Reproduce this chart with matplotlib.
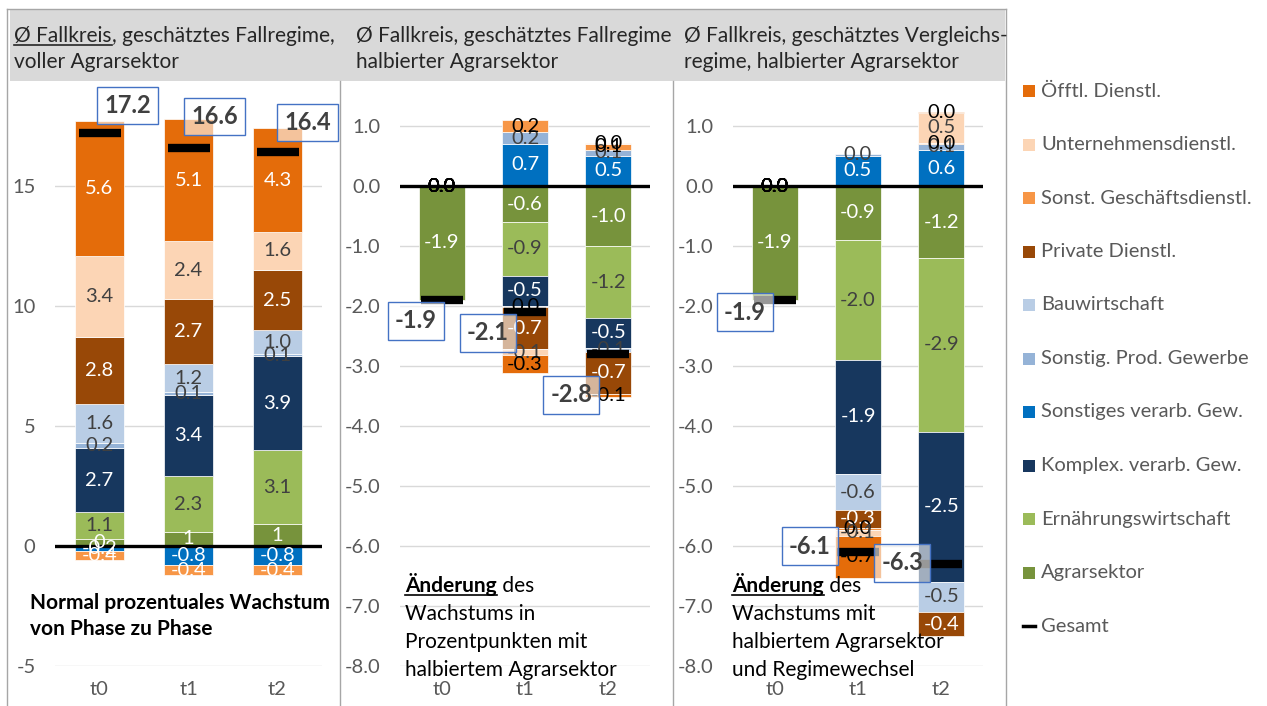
import numpy as np
import matplotlib.pyplot as plt
from matplotlib.transforms import IdentityTransform, Bbox
from matplotlib.lines import Line2D
from matplotlib.patches import Rectangle

plt.rcParams['font.family'] = ['Lato', 'DejaVu Sans']

# ---- data ---------------------------------------------------------------
cats = ["t0", "t1", "t2"]

# stack order (bottom -> top), legend is shown reversed
series = ["Agrarsektor", "Ernährungswirtschaft", "Komplex. verarb. Gew.",
          "Sonstiges verarb. Gew.", "Sonstig. Prod. Gewerbe", "Bauwirtschaft",
          "Private Dienstl.", "Sonst. Geschäftsdienstl.", "Unternehmensdienstl.",
          "Öfftl. Dienstl."]

# panel 1: normal growth, full agricultural sector
p1_agrar = [0.3, 0.6, 0.9]
p1_ern = [1.1, 2.3, 3.1]
p1_komplex = [2.7, 3.4, 3.9]
p1_verarb = [-0.2, -0.8, -0.8]
p1_prod = [0.2, 0.1, 0.1]
p1_bau = [1.6, 1.2, 1.0]
p1_private = [2.8, 2.7, 2.5]
p1_gesch = [-0.4, -0.4, -0.4]
p1_untern = [3.4, 2.4, 1.6]
p1_oefftl = [5.6, 5.1, 4.3]
p1_gesamt = [17.2, 16.6, 16.4]

# panel 2: change with halved agricultural sector
p2_agrar = [-1.9, -0.6, -1.0]
p2_ern = [0.0, -0.9, -1.2]
p2_komplex = [0.0, -0.5, -0.5]
p2_verarb = [0.0, 0.7, 0.5]
p2_prod = [0.0, 0.2, 0.1]
p2_bau = [0.0, -0.02, -0.06]
p2_private = [0.0, -0.7, -0.7]
p2_gesch = [0.0, 0.2, 0.1]
p2_untern = [0.0, -0.1, 0.02]
p2_oefftl = [0.0, -0.3, -0.06]
p2_gesamt = [-1.9, -2.1, -2.8]

# panel 3: change with halved agricultural sector and regime change
p3_agrar = [-1.9, -0.9, -1.2]
p3_ern = [0.0, -2.0, -2.9]
p3_komplex = [0.0, -1.9, -2.5]
p3_verarb = [0.0, 0.5, 0.6]
p3_prod = [0.0, 0.04, 0.1]
p3_bau = [0.0, -0.6, -0.5]
p3_private = [0.0, -0.3, -0.4]
p3_gesch = [0.0, -0.03, 0.02]
p3_untern = [0.0, -0.1, 0.5]
p3_oefftl = [0.0, -0.7, 0.02]
p3_gesamt = [-1.9, -6.1, -6.3]

colors = ["#77933C", "#9BBB59", "#17375E", "#0070C0", "#95B3D7", "#B9CDE5",
          "#984807", "#F79646", "#FCD5B5", "#E46C0A"]
white_lbl = {"Agrarsektor", "Komplex. verarb. Gew.", "Sonstiges verarb. Gew.",
             "Private Dienstl.", "Öfftl. Dienstl.", "Sonst. Geschäftsdienstl."}

W, H = 1267, 706
fig = plt.figure(figsize=(W / 100, H / 100), dpi=100)
px = IdentityTransform()
FS = 14.5


def Y(y):
    return H - y


def label_color(name, v, panel):
    if panel > 1:
        if name in ("Öfftl. Dienstl.", "Sonst. Geschäftsdienstl."):
            return "black"
        if abs(v) < 0.05 and name != "Sonstig. Prod. Gewerbe":
            return "black"
    return "white" if name in white_lbl else "#404040"


def fmt(v, name, panel):
    if panel == 1 and name == "Agrarsektor":
        return "%.0f" % v
    s = "%.1f" % v
    return "0.0" if s == "-0.0" else s


def panel(rect, data, gesamt, ylim, yticks, yfmt, width, offsets, pnum):
    ax = fig.add_axes(rect)
    x = np.arange(len(cats))
    pos = np.zeros(3)
    neg = np.zeros(3)
    for name, col, vals in zip(series, colors, data):
        vals = np.array(vals, dtype=float)
        bottom = np.where(vals >= 0, pos, neg)
        ax.bar(x, vals, width, bottom=bottom, color=col, edgecolor="white",
               linewidth=0.5, zorder=2)
        for i, v in enumerate(vals):
            ax.text(x[i], bottom[i] + v / 2, fmt(v, name, pnum), ha="center",
                    va="center", fontsize=FS, color=label_color(name, v, pnum),
                    zorder=4)
        pos = pos + np.where(vals >= 0, vals, 0)
        neg = neg + np.where(vals < 0, vals, 0)
    ax.axhline(0, color="black", lw=2.4, zorder=3)
    ax.plot(x, gesamt, ls="none", marker="_", ms=30, mew=6, color="black", zorder=5)
    for i, g in enumerate(gesamt):
        ax.annotate("%.1f" % g, xy=(x[i], g), xytext=offsets[i],
                    textcoords="offset pixels", ha="center", va="center",
                    fontsize=17, fontweight="bold", color="#404040", zorder=6,
                    bbox=dict(boxstyle="square,pad=0.3", fc=(1, 1, 1, 0.6),
                              ec="#4472C4", lw=1))
    ax.set_xlim(-0.5, 2.5)
    ax.set_ylim(*ylim)
    ax.set_yticks(yticks)
    ax.set_yticklabels([yfmt % t for t in yticks])
    ax.set_xticks(x)
    ax.set_xticklabels(cats)
    ax.tick_params(length=0, labelsize=FS, labelcolor="#595959")
    ax.tick_params(axis="y", pad=14)
    ax.tick_params(axis="x", pad=11)
    ax.grid(axis="y", color="#D9D9D9", lw=1, zorder=0)
    ax.set_axisbelow(True)
    for s in ax.spines.values():
        s.set_visible(False)
    return ax


bot = (H - 666) / H
hgt = 600 / H
panel([55 / W, bot, 267 / W, hgt],
      [p1_agrar, p1_ern, p1_komplex, p1_verarb, p1_prod, p1_bau, p1_private,
       p1_gesch, p1_untern, p1_oefftl], p1_gesamt,
      (-5, 20), [-5, 0, 5, 10, 15], "%d", 0.54,
      [(28, 28), (26, 31), (30, 30)], 1)
panel([400 / W, bot, 250 / W, hgt],
      [p2_agrar, p2_ern, p2_komplex, p2_verarb, p2_prod, p2_bau, p2_private,
       p2_gesch, p2_untern, p2_oefftl], p2_gesamt,
      (-8, 2), list(np.arange(-8, 2)), "%.1f", 0.55,
      [(-26, -21), (-37, -21), (-37, -41)], 2)
panel([733 / W, bot, 250 / W, hgt],
      [p3_agrar, p3_ern, p3_komplex, p3_verarb, p3_prod, p3_bau, p3_private,
       p3_gesch, p3_untern, p3_oefftl], p3_gesamt,
      (-8, 2), list(np.arange(-8, 2)), "%.1f", 0.55,
      [(-30, -12), (-48, 6), (-39, 1)], 3)

# ---- frame, header band and separators ---------------------------------
fig.add_artist(Rectangle((10, Y(81)), 995, 71, transform=px, fc="#D9D9D9",
                         ec="none", zorder=1))
lc = "#A6A6A6"
for xs, ys in [([7, 1006], [9, 9]), ([7, 7], [9, 706]), ([340, 340], [81, 706]),
               ([673, 673], [81, 706]), ([1006, 1006], [9, 706])]:
    fig.add_artist(Line2D(xs, [Y(v) for v in ys], transform=px, color=lc, lw=1))

renderer = fig.canvas.get_renderer()


def rich(x, y, parts, size, color="black", clip_x=None):
    for s, bold, ul in parts:
        t = fig.text(x, Y(y), s, transform=px, fontsize=size,
                     fontweight="bold" if bold else "normal", color=color,
                     ha="left", va="baseline", zorder=3)
        if clip_x is not None:
            t.set_clip_box(Bbox([[0, 0], [clip_x, H]]))
            t.set_clip_on(True)
        w = t.get_window_extent(renderer).width
        if ul:
            fig.add_artist(Line2D([x, x + w], [Y(y + 3), Y(y + 3)], transform=px,
                                  color=color, lw=1.2))
        x += w


hc = "#262626"
HS = 15
rich(14, 42, [("Ø Fallkreis", False, True), (", geschätztes Fallregime,", False, False)], HS, hc)
rich(14, 68, [("voller Agrarsektor", False, False)], HS, hc)
rich(356, 42, [("Ø Fallkreis, geschätztes Fallregime,", False, False)], HS, hc, clip_x=672)
rich(356, 68, [("halbierter Agrarsektor", False, False)], HS, hc)
rich(684, 42, [("Ø Fallkreis, geschätztes Vergleichs-", False, False)], HS, hc)
rich(684, 68, [("regime, halbierter Agrarsektor", False, False)], HS, hc)

rich(30, 609, [("Normal prozentuales Wachstum", True, False)], HS)
rich(30, 635, [("von Phase zu Phase", True, False)], HS)

for x0, lines in [(405, ["Wachstums in", "Prozentpunkten mit", "halbiertem Agrarsektor"]),
                  (732, ["Wachstums mit", "halbiertem Agrarsektor", "und Regimewechsel"])]:
    rich(x0, 592, [("Änderung", True, True), (" des", False, False)], HS)
    for k, s in enumerate(lines):
        rich(x0, 620 + 28 * k, [(s, False, False)], HS)

# ---- legend -------------------------------------------------------------
leg_y = 91
for name, col in zip(series[::-1], colors[::-1]):
    fig.add_artist(Rectangle((1023, Y(leg_y) - 6), 12, 12, transform=px,
                             fc=col, ec="none"))
    fig.text(1041, Y(leg_y), name, transform=px, fontsize=14.5, color="#595959",
             ha="left", va="center")
    leg_y += 53.5
fig.add_artist(Line2D([1023, 1035], [Y(leg_y), Y(leg_y)], transform=px,
                      color="black", lw=2.5))
fig.text(1041, Y(leg_y), "Gesamt", transform=px, fontsize=14.5, color="#595959",
         ha="left", va="center")

fig.savefig("out.png", dpi=100)
